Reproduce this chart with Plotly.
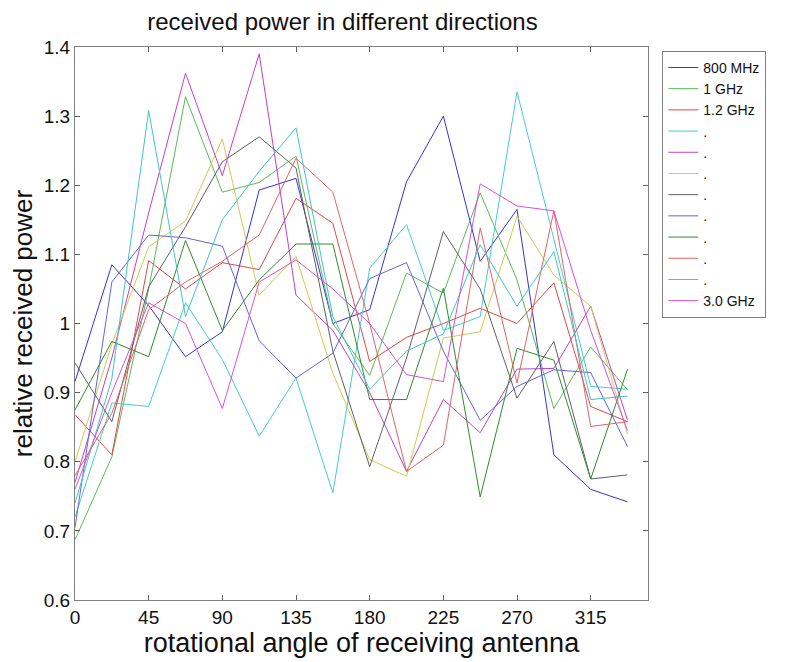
import plotly.graph_objects as go

angles = [0, 22.5, 45, 67.5, 90, 112.5, 135, 157.5, 180, 202.5, 225, 247.5, 270, 292.5, 315, 337.5]

names = ["800 MHz", "1 GHz", "1.2 GHz", ".", ".", ".", ".", ".", ".", ".", ".", "3.0 GHz"]

s1 = [0.916, 1.085, 1.026, 0.952, 0.988, 1.193, 1.21, 1.0, 1.02, 1.205, 1.30, 1.09, 1.165, 0.81, 0.76, 0.742]
s2 = [0.687, 0.807, 1.05, 1.328, 1.19, 1.204, 1.242, 1.0, 0.925, 1.073, 1.044, 1.189, 1.063, 0.877, 0.966, 0.904]
s3 = [0.868, 0.81, 1.091, 1.05, 1.088, 1.078, 1.181, 1.145, 0.945, 0.98, 1.0, 1.022, 1.0, 1.059, 0.88, 0.858]
s4 = [0.72, 0.885, 0.88, 1.03, 0.948, 0.837, 0.921, 0.755, 1.08, 1.143, 0.99, 1.01, 1.335, 1.12, 0.909, 0.905]
s5 = [0.77, 0.95, 1.16, 1.362, 1.214, 1.39, 1.041, 0.99, 0.9, 0.786, 0.89, 0.842, 0.934, 0.935, 1.025, 0.86]
s6 = [0.80, 0.97, 1.111, 1.148, 1.267, 1.041, 1.097, 0.928, 0.803, 0.779, 0.979, 0.988, 1.155, 1.07, 1.025, 0.84]
s7 = [0.943, 0.858, 1.053, 1.14, 1.234, 1.27, 1.225, 0.96, 0.793, 0.95, 1.133, 1.05, 0.892, 0.974, 0.775, 0.781]
s8 = [0.705, 1.06, 1.128, 1.124, 1.112, 0.975, 0.921, 0.957, 1.065, 1.088, 0.96, 0.86, 0.909, 0.933, 0.929, 0.822]
s9 = [0.875, 0.974, 0.952, 1.12, 0.99, 1.063, 1.115, 1.115, 0.89, 0.89, 1.051, 0.749, 0.964, 0.947, 0.775, 0.934]
s10 = [0.78, 0.87, 1.02, 1.06, 1.09, 1.128, 1.239, 1.19, 1.0, 0.786, 0.824, 1.138, 0.914, 1.163, 0.851, 0.858]
s11 = [0.74, 0.92, 1.308, 1.01, 1.15, 1.22, 1.283, 1.01, 0.905, 0.96, 0.985, 1.114, 1.025, 1.104, 0.89, 0.895]
s12 = [0.76, 0.90, 1.03, 1.0, 0.877, 1.06, 1.092, 1.05, 1.0, 0.926, 0.916, 1.202, 1.17, 1.163, 0.99, 0.845]

series = [s1, s2, s3, s4, s5, s6, s7, s8, s9, s10, s11, s12]

colors = ["#3434d4", "#5cb85c", "#e04848", "#48cccc", "#c040c8", "#cccc50",
          "#606060", "#6464e0", "#2e8b2e", "#e06464", "#40c4c4", "#d850d8"]

yticks = [0.6, 0.7, 0.8, 0.9, 1.0, 1.1, 1.2, 1.3, 1.4]
yticktext = ["0.6", "0.7", "0.8", "0.9", "1", "1.1", "1.2", "1.3", "1.4"]
xticks = [0, 45, 90, 135, 180, 225, 270, 315]

fig = go.Figure()
for name, vals, col in zip(names, series, colors):
    fig.add_trace(go.Scatter(x=angles, y=vals, mode="lines", name=name,
                             line=dict(color=col, width=1)))

font_family = "Liberation Sans, Arial, sans-serif"
axis_common = dict(showline=True, linecolor="#808080", linewidth=1, mirror="ticks",
                   ticks="inside", ticklen=5, tickcolor="#606060", showgrid=False,
                   zeroline=False, automargin=False,
                   tickfont=dict(size=19, color="#111", family=font_family))

fig.update_layout(
    width=793, height=662,
    margin=dict(l=67, r=153, t=39, b=70, autoexpand=False),
    paper_bgcolor="white", plot_bgcolor="white",
    title=dict(text="received power in different directions", x=334.5 / 793,
               xanchor="center", y=1 - 14 / 662, yanchor="middle",
               font=dict(size=24, color="#111", family=font_family)),
    xaxis=dict(range=[0, 350], tickvals=xticks,
               title=dict(text="rotational angle of receiving antenna", standoff=0,
                          font=dict(size=27, color="#111", family=font_family)),
               **axis_common),
    yaxis=dict(range=[0.6, 1.4], tickvals=yticks, ticktext=yticktext,
               title=dict(text="relative received power", standoff=4,
                          font=dict(size=26, color="#111", family=font_family)),
               **axis_common),
    legend=dict(x=1.025, xanchor="left", y=0.993, yanchor="top",
                bordercolor="#808080", borderwidth=1, bgcolor="white",
                font=dict(size=14, color="#111", family=font_family),
                itemwidth=30, tracegroupgap=0, entrywidth=90, entrywidthmode="pixels"),
    showlegend=True,
)

fig.write_html("out.html")
